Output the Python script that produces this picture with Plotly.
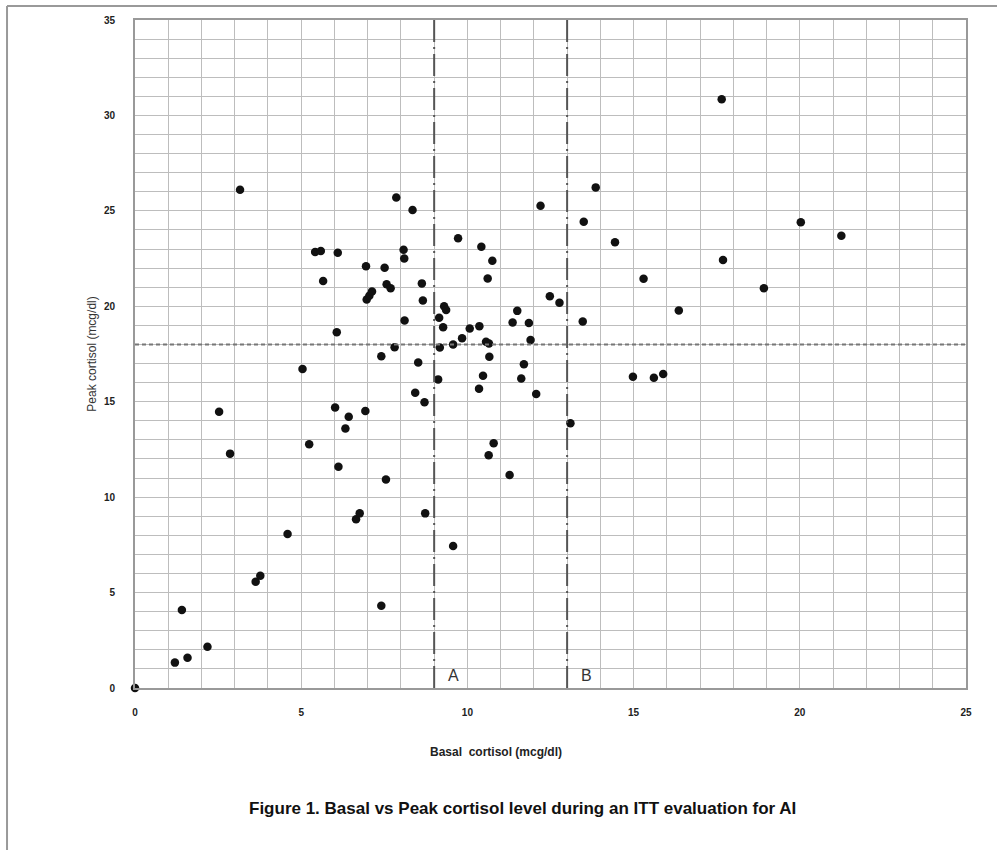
import plotly.graph_objects as go

basal = [0, 1.2, 1.58, 1.41, 2.18, 3.63, 3.77, 4.59, 2.53, 2.86, 3.16, 5.04, 5.24, 6.02, 6.43,
         6.33, 6.93, 6.12, 7.55, 6.65, 6.76, 8.73, 9.57, 7.41, 5.42, 5.59, 6.1, 5.66, 6.95, 7.51,
         6.97, 7.05, 7.13, 7.57, 7.69, 8.08, 8.1, 8.63, 8.66, 8.11, 6.07, 7.81, 7.41, 8.52, 9.12,
         8.43, 8.71, 7.86, 8.35, 9.72, 10.42, 10.75, 10.61, 9.3, 9.36, 9.15, 9.27, 9.84, 10.07,
         10.36, 9.57, 9.17, 10.56, 10.65, 10.66, 11.7, 10.47, 11.62, 10.35, 12.07, 10.79, 10.64,
         11.27, 11.5, 11.36, 11.85, 11.9, 12.2, 12.48, 12.77, 13.47, 13.1, 13.5, 13.86, 14.44,
         14.98, 15.3, 15.61, 15.89, 16.36, 17.65, 17.69, 18.92, 20.03, 21.25]
peak = [0, 1.33, 1.59, 4.09, 2.16, 5.57, 5.88, 8.07, 14.47, 12.28, 26.1, 16.72, 12.77, 14.7, 14.21,
        13.6, 14.51, 11.59, 10.93, 8.84, 9.15, 9.15, 7.44, 4.31, 22.85, 22.9, 22.8, 21.32, 22.1, 22.02,
        20.35, 20.55, 20.78, 21.15, 20.95, 22.96, 22.5, 21.2, 20.3, 19.26, 18.64, 17.85, 17.38, 17.06, 16.17,
        15.47, 14.97, 25.7, 25.04, 23.56, 23.12, 22.38, 21.46, 20.0, 19.8, 19.4, 18.9, 18.32, 18.84,
        18.96, 18.0, 17.84, 18.14, 18.05, 17.36, 16.96, 16.36, 16.22, 15.68, 15.4, 12.82, 12.2,
        11.16, 19.76, 19.15, 19.12, 18.23, 25.27, 20.53, 20.18, 19.2, 13.87, 24.43, 26.23, 23.35,
        16.31, 21.44, 16.25, 16.45, 19.78, 30.85, 22.42, 20.95, 24.4, 23.7]

cut_a = 9
cut_b = 13
peak_cut = 18
x_range = [0, 25]
y_range = [0, 35]
region_labels = ["A", "B"]

fig = go.Figure()
fig.add_trace(go.Scatter(x=basal, y=peak, mode="markers", cliponaxis=False,
                         marker=dict(color="#111111", size=8.5), showlegend=False))

# reference lines
fig.add_shape(type="line", x0=x_range[0], x1=x_range[1], y0=peak_cut, y1=peak_cut,
              xref="x", yref="y", line=dict(color="#777777", width=2, dash="4px,3px"))
for c in (cut_a, cut_b):
    fig.add_shape(type="line", x0=c, x1=c, y0=y_range[0], y1=y_range[1],
                  xref="x", yref="y", line=dict(color="#555555", width=2, dash="22px,5px,2px,5px"))

for lab, c in zip(region_labels, (cut_a, cut_b)):
    fig.add_annotation(x=c + 0.35, y=0.1, xref="x", yref="y", text=lab, showarrow=False,
                       xanchor="left", yanchor="bottom",
                       font=dict(family="Liberation Sans", size=16, color="#333333"))

# outer document frame
fig.add_shape(type="line", xref="paper", yref="paper", x0=-0.154, x1=1.04, y0=1.021, y1=1.021,
              line=dict(color="#999999", width=2))
fig.add_shape(type="line", xref="paper", yref="paper", x0=-0.154, x1=-0.154, y0=1.021, y1=-0.25,
              line=dict(color="#999999", width=2))

fig.add_annotation(x=-0.063, y=0.5, xref="paper", yref="paper", text="Peak cortisol (mcg/dl)",
                   textangle=-90, showarrow=False,
                   font=dict(family="Liberation Sans", size=12, color="#333333"))
fig.add_annotation(x=0.434, y=-0.109, xref="paper", yref="paper", text="<b>Basal  cortisol (mcg/dl)</b>",
                   showarrow=False,
                   font=dict(family="Liberation Sans", size=12, color="#222222"))
fig.add_annotation(x=0.466, y=-0.197, xref="paper", yref="paper",
                   text="<b>Figure 1. Basal vs Peak cortisol level during an ITT evaluation for AI</b>",
                   showarrow=False,
                   font=dict(family="Liberation Sans", size=17, color="#111111"))

fig.update_xaxes(range=x_range, dtick=5, showgrid=True, gridcolor="#bdbdbd", gridwidth=1,
                 minor=dict(dtick=1, showgrid=True, gridcolor="#bdbdbd", gridwidth=1),
                 showline=True, linecolor="#999999", linewidth=2, mirror=True, zeroline=False,
                 ticks="", ticklabelstandoff=14,
                 tickfont=dict(family="Liberation Sans", size=10, color="#222222", weight="bold"))
fig.update_yaxes(range=y_range, dtick=5, showgrid=True, gridcolor="#bdbdbd", gridwidth=1,
                 minor=dict(dtick=1, showgrid=True, gridcolor="#bdbdbd", gridwidth=1),
                 showline=True, linecolor="#999999", linewidth=2, mirror=True, zeroline=False,
                 ticks="", ticklabelstandoff=16,
                 tickfont=dict(family="Liberation Sans", size=10, color="#222222", weight="bold"))

fig.update_layout(width=997, height=850, paper_bgcolor="white", plot_bgcolor="white",
                  margin=dict(l=135, r=31, t=20, b=162), showlegend=False)

fig.write_html("out.html")
